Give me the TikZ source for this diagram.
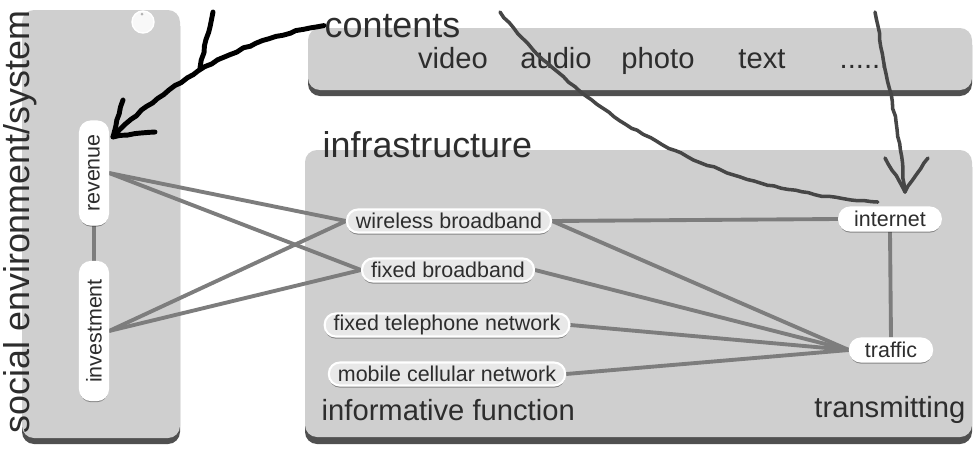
\documentclass[tikz,border=0pt]{standalone}
\usepackage{fontspec}
\setmainfont{Liberation Sans}
\usetikzlibrary{shadows,decorations.pathmorphing}
\pgfdeclarelayer{panels}
\pgfdeclarelayer{links}
\pgfsetlayers{panels,links,main}

\definecolor{panelgray}{RGB}{207,207,207}
\definecolor{paneledge}{RGB}{80,80,80}
\definecolor{linkgray}{RGB}{125,125,125}
\definecolor{inkgray}{RGB}{70,70,70}
\definecolor{textgray}{RGB}{45,45,45}
\definecolor{pillfill}{RGB}{232,232,232}

\begin{document}
\begin{tikzpicture}[x=0.01cm,y=-0.01cm,
  panel/.style={fill=panelgray, rounded corners=0.12cm},
  panelbase/.style={fill=paneledge, rounded corners=0.12cm},
  biglabel/.style={font=\fontsize{10.2}{12}\selectfont, text=textgray, inner sep=0pt},
  midlabel/.style={font=\fontsize{8.3}{10}\selectfont, text=textgray, inner sep=0pt},
  pill/.style={draw=white, line width=0.6pt, fill=pillfill, rounded corners=0.11cm,
    minimum height=0.23cm, inner xsep=0.09cm, inner ysep=0pt,
    font=\fontsize{6.1}{7}\selectfont, text=textgray,
    drop shadow={shadow xshift=0pt, shadow yshift=-0.6pt, fill=black, opacity=0.35}},
  whitepill/.style={pill, fill=white, inner xsep=0.15cm},
  link/.style={draw=linkgray, line width=1.1pt},
  ink/.style={draw=black, line width=1.4pt, line cap=round, line join=round,
    decorate, decoration={random steps, segment length=2pt, amplitude=0.25pt}},
  inkthin/.style={ink, draw=inkgray, line width=1pt},
]
\useasboundingbox (0,0) rectangle (978,448);

% panels
\begin{pgfonlayer}{panels}
  \path[panelbase] (22,14) rectangle (180,444);
  \path[panel] (22,10) rectangle (180,438);
  \path[fill=white!85!panelgray, draw=white] (143,22) circle (11);
  \path[fill=gray!60] (142,14) circle (1.5);
  \path[panelbase] (308,33) rectangle (972,96);
  \path[panel] (308,28) rectangle (972,90);
  \path[panelbase] (305,155) rectangle (972,444);
  \path[panel] (305,150) rectangle (972,437);
\end{pgfonlayer}

% labels
\node[biglabel, rotate=90] (title) at (20,222) {social environment/system};
\node[biglabel, anchor=base west] (contentslbl) at (324,37) {contents};
\node[midlabel, anchor=base] (video) at (453,68) {video};
\node[midlabel, anchor=base] (audio) at (556,68) {audio};
\node[midlabel, anchor=base] (photo) at (658,68) {photo};
\node[midlabel, anchor=base] (textitem) at (762,68) {text};
\node[midlabel, anchor=base] (more) at (864,68) {......};
\node[biglabel, anchor=base west] (infralbl) at (322,157) {infrastructure};
\node[midlabel, anchor=base west] (infolbl) at (321,420) {informative function};
\node[midlabel, anchor=base east] (translbl) at (966,417) {transmitting};

% nodes
\node[pill] (wireless) at (449,221) {wireless broadband};
\node[pill] (fixedbb) at (448,270) {fixed broadband};
\node[pill] (fixedtel) at (447,325) {fixed telephone network};
\node[pill] (mobile) at (447,374) {mobile cellular network};
\node[whitepill] (internet) at (890,219) {internet};
\node[whitepill] (traffic) at (891,350) {traffic};
\node[whitepill, inner xsep=0pt, rotate=90, minimum width=1.03cm, minimum height=0.28cm] (revenue) at (94,173) {revenue};
\node[whitepill, inner xsep=0pt, rotate=90, minimum width=1.38cm, minimum height=0.28cm] (investment) at (94,331) {investment};

% connectors
\begin{pgfonlayer}{links}
  \draw[link] (revenue.west) -- (investment.east);
  \draw[link] (revenue.south) -- (wireless.west);
  \draw[link] (revenue.south) -- (fixedbb.west);
  \draw[link] (investment.south) -- (wireless.west);
  \draw[link] (investment.south) -- (fixedbb.west);
  \draw[link] (wireless.east) -- (internet.west);
  \draw[link] (wireless.east) -- (traffic.west);
  \draw[link] (fixedbb.east) -- (traffic.west);
  \draw[link] (fixedtel.east) -- (traffic.west);
  \draw[link] (mobile.east) -- (traffic.west);
  \draw[link] (internet.south) -- (traffic.north);
\end{pgfonlayer}

% hand-drawn strokes
\coordinate (tipA) at (113,137);
\coordinate (barbA1) at (123,100);
\coordinate (barbA2) at (155,132);
\coordinate (forkTop) at (213,12);
\coordinate (forkFoot) at (200,68);
\draw[ink] (contentslbl.west) .. controls (260,35) and (180,70) .. (tipA);
\draw[ink] (forkTop) -- (forkFoot);
\draw[ink] (barbA1) -- (tipA) -- (barbA2);

\coordinate (startB) at (500,12);
\coordinate (endB) at (878,202);
\draw[inkthin] (startB) .. controls (580,110) and (700,190) .. (endB);

\coordinate (startC) at (875,12);
\coordinate (tipC) at (905,192);
\coordinate (barbC1) at (885,158);
\coordinate (barbC2) at (928,158);
\draw[inkthin] (startC) .. controls (885,70) and (900,130) .. (tipC);
\draw[inkthin] (barbC1) -- (tipC) -- (barbC2);
\end{tikzpicture}
\end{document}
